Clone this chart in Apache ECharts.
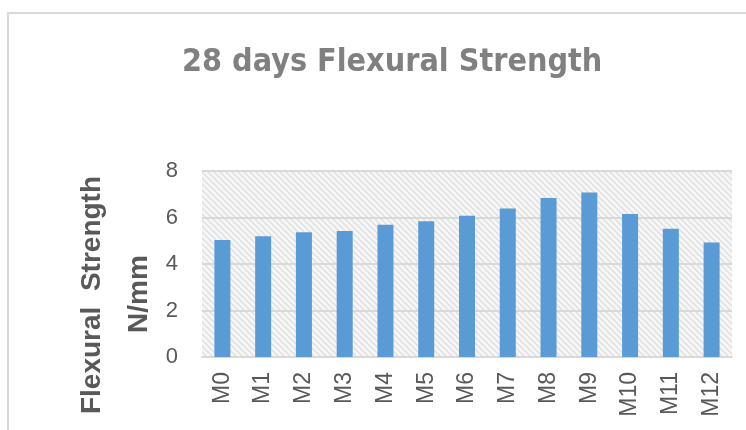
<!DOCTYPE html>
<html>
<head>
<meta charset="utf-8">
<script src="https://cdn.jsdelivr.net/npm/echarts@6/dist/echarts.min.js"></script>
<style>
    html, body { margin: 0; padding: 0; background: #fff; }
    #chart { width: 746px; height: 430px; }
</style>
</head>
<body>
<div id="chart"></div>
<script>
    // data
    var categories = ['M0', 'M1', 'M2', 'M3', 'M4', 'M5', 'M6', 'M7', 'M8', 'M9', 'M10', 'M11', 'M12'];
    var strength = [5.03, 5.19, 5.37, 5.42, 5.69, 5.84, 6.07, 6.39, 6.84, 7.07, 6.15, 5.52, 4.92];
    var yTicks = [0, 2, 4, 6, 8];

    // diagonal hatch for the plot area
    function hatch() {
        var c = document.createElement('canvas');
        c.width = 6;
        c.height = 6;
        var ctx = c.getContext('2d');
        ctx.fillStyle = '#f7f7f7';
        ctx.fillRect(0, 0, 6, 6);
        ctx.strokeStyle = '#e2e2e2';
        ctx.lineWidth = 1.6;
        ctx.beginPath();
        ctx.moveTo(-1, -1); ctx.lineTo(7, 7);
        ctx.moveTo(-4, 2); ctx.lineTo(4, 10);
        ctx.moveTo(2, -4); ctx.lineTo(10, 4);
        ctx.stroke();
        return c;
    }

    var myChart = echarts.init(document.getElementById('chart'), null, { renderer: 'canvas' });

    var option = {
        animation: false,
        backgroundColor: '#fff',
        title: {
            text: '28 days Flexural Strength',
            left: 177,
            top: 42,
            textStyle: {
                fontFamily: '"DejaVu Sans Condensed", "Liberation Sans", sans-serif',
                fontWeight: 'bold',
                fontSize: 32,
                color: '#808080'
            }
        },
        grid: {
            left: 202,
            right: 14,
            top: 171,
            bottom: 73,
            show: true,
            borderWidth: 0,
            backgroundColor: { image: hatch(), repeat: 'repeat' }
        },
        graphic: [
            {
                type: 'rect',
                shape: { x: 8, y: 13, width: 760, height: 440 },
                style: { fill: 'none', stroke: '#d9d9d9', lineWidth: 2 },
                silent: true,
                z: -1
            },
            {
                type: 'text',
                x: 92,
                y: 295,
                rotation: Math.PI / 2,
                style: {
                    text: 'Flexural  Strength',
                    font: 'bold 28px "Liberation Sans"',
                    fill: '#595959',
                    textAlign: 'center',
                    textVerticalAlign: 'middle'
                }
            },
            {
                type: 'text',
                x: 139,
                y: 294,
                rotation: Math.PI / 2,
                style: {
                    text: 'N/mm',
                    font: 'bold 28px "Liberation Sans"',
                    fill: '#595959',
                    textAlign: 'center',
                    textVerticalAlign: 'middle'
                }
            }
        ],
        xAxis: {
            type: 'category',
            data: categories,
            axisLine: { show: true, lineStyle: { color: '#d9d9d9', width: 2 } },
            axisTick: { show: false },
            axisLabel: {
                interval: 0,
                rotate: 90,
                margin: 15,
                fontFamily: 'Liberation Sans',
                fontSize: 23,
                color: '#595959'
            }
        },
        yAxis: {
            type: 'value',
            min: yTicks[0],
            max: yTicks[yTicks.length - 1],
            interval: yTicks[1] - yTicks[0],
            axisLine: { show: false },
            axisTick: { show: false },
            axisLabel: {
                margin: 24,
                fontFamily: 'Liberation Sans',
                fontSize: 22,
                color: '#595959'
            },
            splitLine: { show: true, lineStyle: { color: '#d9d9d9', width: 2 } }
        },
        series: [
            {
                name: 'Flexural Strength',
                type: 'bar',
                data: strength,
                barWidth: 16,
                itemStyle: { color: '#5b9bd5' }
            }
        ]
    };

    myChart.setOption(option);
</script>
</body>
</html>
